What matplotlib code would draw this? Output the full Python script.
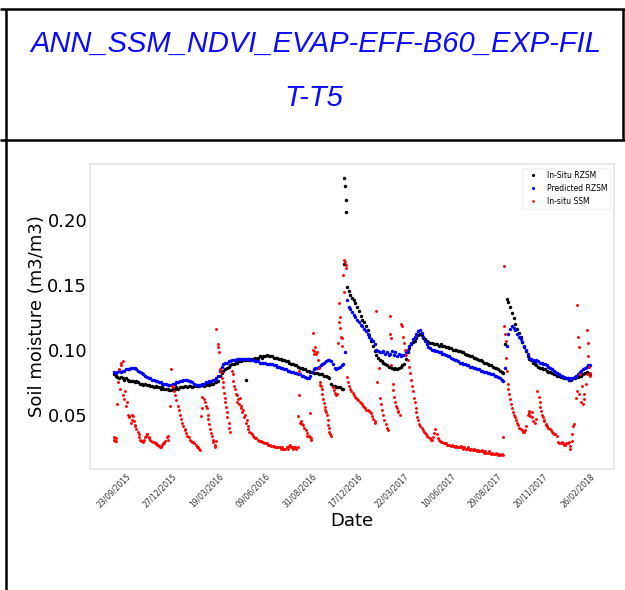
import numpy as np
import matplotlib
matplotlib.use("Agg")
import matplotlib.pyplot as plt
from matplotlib.lines import Line2D

nan = np.nan

W, H = 625, 590  # output size in pixels

title_lines = ["ANN_SSM_NDVI_EVAP-EFF-B60_EXP-FIL", "T-T5"]

date_labels = ["23/09/2015", "27/12/2015", "19/03/2016", "09/06/2016", "31/08/2016",
               "17/12/2016", "22/03/2017", "10/06/2017", "29/08/2017", "20/11/2017",
               "26/02/2018"]
label_step = 80   # samples between two date labels
grid_step = 3     # samples between two stored RZSM values

# in-situ root zone soil moisture, every 3rd sample
rzsm_insitu = [
    .081, .080, .079, .078, .079, .078, .077, .078, .077, .076,
    .076, .076, .075, .076, .075, .074, .074, .073, .074, .073,
    .073, .072, .072, .071, .072, .071, .071, .070, .071, .070,
    .070, .070, .069, .069, .070, .070, .071, .070, .071, .071,
    .071, .072, .071, .072, .072, .071, .072, .073, .072, .072,
    .073, .073, .072, .073, .074, .073, .074, .074, .075, .075,
    .076, .080, .082, .084, .085, .086, .087, .088, .089, .089,
    .090, .090, .091, .091, .092, .092, .092, .093, .092, .093,
    .093, .094, .093, .094, .095, .094, .095, .095, .096, .095,
    .095, .095, .094, .094, .094, .093, .093, .092, .092, .091,
    .091, .090, .089, .089, .088, .088, .087, .086, .086, .085,
    .085, .084, .084, .083, .083, .082, .082, .082, .081, .081,
    .081, .080, .080, .079, .078, .074, .072, .072, .071, .071,
    .071, .070, .070, nan, .148, .145, .142, .140, .138, .136,
    .133, .130, .126, .123, .121, .118, .115, .111, .107, .103,
    .099, .096, .094, .092, .091, .090, .089, .088, .087, .087,
    .086, .085, .086, .085, .086, .087, .088, .089, .093, .098,
    .101, .104, .106, .107, .109, .111, .112, .111, .109, .108,
    .107, .106, .105, .105, .104, .104, .104, .103, .104, .103,
    .103, .102, .102, .101, .101, .100, .100, .100, .099, .099,
    .098, .098, .097, .096, .096, .095, .095, .094, .094, .093,
    .092, .092, .091, .090, .090, .089, .088, .088, .087, .086,
    .086, .085, .084, .083, .082, .104, .139, .137, .133, .128,
    .124, .120, .116, .113, .110, .106, .102, .099, .095, .093,
    .092, .090, .089, .088, .087, .086, .086, .085, .085, .084,
    .083, .083, .082, .081, .081, .080, .080, .079, .079, .078,
    .078, .078, .077, .077, .078, .078, .079, .079, .080, .080,
    .081, .082, .083, .082, .081,
]

# single in-situ RZSM readings off the regular grid (sample, value)
rzsm_insitu_extra = [(228, .077), (397, .166), (398, .232), (399, .226),
                     (400, .215), (401, .206)]

# predicted root zone soil moisture, every 3rd sample
rzsm_pred = [
    .083, .082, .083, .084, .083, .084, .084, .085, .085, .085,
    .086, .086, .086, .085, .084, .083, .082, .081, .080, .079,
    .078, .078, .077, .077, .076, .076, .075, .075, .074, .074,
    .074, .073, .073, .073, .074, .074, .075, .075, .076, .076,
    .077, .077, .077, .076, .076, .075, .074, .073, .073, .073,
    .073, .074, .074, .075, .075, .076, .076, .077, .077, .078,
    .080, .084, .087, .089, .090, .090, .091, .091, .092, .092,
    .092, .093, .093, .093, .093, .093, .093, .093, .093, .092,
    .092, .091, .091, .091, .090, .090, .090, .090, .089, .089,
    .089, .089, .088, .088, .087, .087, .086, .086, .085, .085,
    .084, .084, .083, .083, .082, .082, .081, .081, .080, .080,
    .079, .078, .078, .080, .083, .085, .086, .086, .087, .088,
    .089, .090, .091, .092, .092, .091, .089, .086, .085, .086,
    .087, .088, .089, .098, .138, .133, .131, .129, .127, .125,
    .123, .121, .119, .118, .116, .114, .112, .110, .108, .107,
    .104, .100, .099, .098, .098, .099, .097, .098, .096, .097,
    .099, .096, .098, .095, .097, .095, .096, .096, .098, .100,
    .103, .105, .108, .110, .112, .114, .115, .113, .110, .107,
    .104, .102, .101, .100, .100, .099, .099, .098, .098, .097,
    .097, .096, .095, .095, .094, .093, .092, .092, .091, .090,
    .090, .089, .089, .088, .088, .087, .087, .086, .086, .085,
    .085, .084, .084, .083, .083, .082, .082, .081, .081, .080,
    .080, .079, .078, .077, .076, .086, .103, .112, .116, .118,
    .117, .115, .112, .110, .108, .106, .103, .100, .097, .094,
    .093, .092, .091, .092, .091, .090, .090, .089, .089, .088,
    .087, .086, .085, .084, .083, .082, .081, .080, .080, .079,
    .078, .078, .077, .078, .078, .079, .080, .081, .083, .084,
    .085, .086, .087, .088, .088,
]

# in-situ surface soil moisture (sample, value)
ssm_insitu = [
    (0, .033), (1, .031), (2, .030), (3, .032), (4, .030),
    (6, .058), (8, .075), (9, .085), (10, .070), (12, .090), (13, .088), (15, .065),
    (16, .091), (18, .062), (19, .068), (21, .057), (22, .060),
    (24, .050), (26, .049), (27, .048), (29, .044), (31, .046), (32, .050), (33, .049),
    (34, .045), (36, .042), (37, .041), (39, .039), (41, .037), (43, .035), (44, .033),
    (46, .031), (47, .030), (49, .030), (50, .029),
    (52, .031), (54, .033), (55, .034), (57, .035), (58, .035), (60, .033), (61, .032),
    (63, .031), (65, .030), (67, .029), (69, .029), (71, .028), (72, .028), (74, .027),
    (76, .027), (78, .026), (80, .025), (81, .025), (83, .027), (85, .028), (87, .028),
    (89, .030), (91, .033), (93, .034), (94, .031),
    (97, .057), (99, .085),
    (101, .072), (102, .071), (104, .068), (106, .065), (108, .061), (110, .057),
    (112, .054), (114, .050), (116, .047), (118, .044), (120, .041), (122, .039),
    (123, .038), (125, .036), (127, .034), (129, .033), (131, .031), (133, .030),
    (135, .029), (137, .029), (139, .028), (141, .027), (143, .025), (145, .025),
    (147, .024), (149, .023),
    (150, .049), (152, .055), (153, .064),
    (156, .062), (158, .060), (159, .057), (160, .055), (162, .050), (163, .047),
    (165, .043), (166, .039), (168, .036), (169, .034), (171, .031), (172, .029),
    (174, .027), (175, .025), (176, .030),
    (177, .116), (179, .104), (180, .102), (182, .098),
    (184, .085), (185, .083), (187, .078), (188, .075), (189, .071), (190, .067),
    (191, .063), (192, .060), (194, .056), (195, .052), (196, .048), (198, .044),
    (199, .040), (200, .037),
    (204, .084), (205, .081), (206, .076), (208, .072), (209, .070), (210, .066),
    (212, .065), (213, .060), (215, .062), (216, .058), (217, .063), (219, .057),
    (220, .055), (222, .052), (223, .054), (225, .048), (226, .050), (228, .044),
    (229, .046), (231, .039), (232, .041), (234, .037), (236, .036), (238, .035),
    (240, .034), (242, .033), (244, .032), (246, .032), (248, .031), (250, .030),
    (252, .030), (254, .030), (256, .029), (258, .029), (260, .028), (262, .028),
    (264, .028), (266, .027), (268, .027), (270, .027), (272, .026), (274, .026),
    (276, .026), (278, .025), (280, .025), (282, .025), (284, .025), (286, .025),
    (288, .024), (290, .025), (292, .024), (294, .024), (296, .024), (298, .025),
    (300, .024), (302, .026), (304, .027), (305, .025), (307, .025), (309, .024),
    (311, .025), (313, .025), (315, .024), (317, .025),
    (318, .049), (319, .065), (320, .084), (322, .044), (323, .045), (325, .043),
    (327, .042), (329, .040), (331, .038), (333, .036), (334, .034), (336, .034),
    (338, .051), (339, .033), (340, .032), (341, .031),
    (343, .113), (344, .100), (345, .097), (346, .099), (347, .102), (349, .097),
    (351, .098), (353, .092), (354, .086),
    (355, .075), (356, .073), (357, .072), (359, .070), (360, .066), (361, .062),
    (362, .059), (364, .056), (365, .054), (366, .052), (368, .050), (369, .046),
    (370, .042), (371, .040), (372, .037), (373, .035), (375, .034),
    (379, .071), (380, .069), (382, .067), (383, .065), (385, .066), (386, .105),
    (388, .136), (389, .121), (390, .125), (391, .117), (392, .110), (393, .103),
    (394, .109), (396, .157), (397, .144), (398, .169), (399, .167), (400, .165),
    (401, .163),
    (403, .079), (404, .075), (406, .072), (408, .070), (410, .068), (412, .067),
    (414, .065), (416, .064), (418, .063), (420, .062), (422, .061), (424, .060),
    (426, .059), (428, .058), (430, .057), (432, .056), (434, .055), (436, .054),
    (438, .054), (440, .053), (442, .052), (444, .051), (446, .049), (448, .047),
    (450, .045), (451, .044),
    (452, .130), (455, .075), (457, .086), (459, .063), (461, .058), (463, .054),
    (465, .050), (467, .046), (469, .043), (471, .040), (473, .038), (476, .126),
    (477, .112), (478, .109), (479, .088), (481, .074), (482, .069), (484, .064),
    (485, .060), (487, .057), (488, .055), (490, .053), (491, .052), (493, .050),
    (495, .120), (497, .118), (499, .110), (501, .105), (503, .100), (505, .096),
    (507, .092), (509, .087), (511, .082), (513, .077), (515, .072), (516, .068),
    (518, .063), (519, .060), (521, .055), (522, .052), (524, .048), (525, .046),
    (527, .043), (529, .041), (531, .040), (533, .038), (535, .037), (537, .036),
    (539, .035), (541, .034), (543, .033), (545, .032), (547, .031), (549, .031),
    (551, .033), (553, .036), (555, .039), (557, .035), (559, .032), (561, .031),
    (563, .030), (565, .029), (567, .029), (569, .028), (571, .028), (573, .028),
    (575, .027), (577, .027), (579, .027), (581, .026), (583, .027), (585, .026),
    (587, .026), (589, .025), (591, .026), (593, .025), (595, .025), (597, .025),
    (599, .026), (601, .025), (603, .024), (605, .025), (607, .024), (609, .024),
    (611, .025), (613, .024), (615, .023), (617, .024), (619, .023), (621, .024),
    (623, .023), (625, .023), (627, .022), (629, .023), (631, .022), (633, .022),
    (635, .023), (637, .022), (639, .021), (641, .022), (643, .021), (645, .021),
    (647, .022), (649, .021), (651, .020), (653, .021), (655, .020), (657, .020),
    (659, .021), (661, .020), (663, .019), (665, .020), (667, .019), (669, .020),
    (671, .019),
    (672, .033), (673, .118), (674, .164), (675, .112), (676, .107), (677, .094),
    (678, .084), (680, .074), (681, .070), (682, .066), (684, .062), (685, .058),
    (687, .055), (688, .052), (690, .050), (692, .048), (694, .046), (696, .044),
    (698, .042), (700, .040), (702, .039), (704, .038), (706, .037), (708, .037),
    (710, .038), (712, .041), (714, .050), (716, .053), (717, .051), (719, .049),
    (721, .052), (722, .048), (724, .045), (726, .044), (728, .047),
    (731, .068), (733, .064), (735, .060), (736, .056), (737, .053), (739, .050),
    (740, .048), (742, .046), (743, .045), (745, .043), (746, .042), (748, .041),
    (750, .040), (752, .039), (754, .038), (756, .037), (758, .036), (760, .035),
    (762, .035), (764, .034),
    (767, .029), (769, .028), (771, .028), (773, .029), (775, .028), (777, .027),
    (779, .027), (781, .028), (783, .028), (785, .029), (787, .026), (788, .024),
    (790, .030), (791, .035), (793, .041), (794, .043),
    (798, .063), (799, .134), (800, .068), (801, .110), (802, .102), (803, .066),
    (805, .081), (806, .060), (808, .072), (809, .058), (811, .066), (812, .062),
    (814, .074), (816, .081), (817, .115), (818, .105), (819, .095), (820, .087),
    (821, .082), (822, .080),
]


def fx(x):
    return x / W


def fy(y):
    return 1 - y / H


fig = plt.figure(figsize=(W / 100, H / 100), dpi=100)

# table cell borders around the header and the chart
border = dict(color="black", lw=1.8, solid_capstyle="butt")
fig.add_artist(Line2D([fx(0), fx(625)], [fy(9), fy(9)], **border))
fig.add_artist(Line2D([fx(0), fx(625)], [fy(139.5), fy(139.5)], **border))
fig.add_artist(Line2D([fx(6), fx(6)], [fy(9), fy(590)], **border))
fig.add_artist(Line2D([fx(623), fx(623)], [fy(9), fy(139.5)], **border))

head = dict(ha="center", va="center", fontsize=21, style="italic",
            color="#0a0aff", family=["Liberation Sans", "DejaVu Sans"])
fig.text(fx(316), fy(44), title_lines[0], **head)
fig.text(fx(314), fy(98), title_lines[1], **head)

ax = fig.add_axes([fx(90), fy(469), 524 / W, 305 / H])

x_grid = np.arange(len(rzsm_insitu)) * grid_step
ex_x, ex_y = zip(*rzsm_insitu_extra)
ssm_x, ssm_y = zip(*ssm_insitu)

dot = dict(linestyle="none", marker="o", mew=0)
ax.plot(x_grid, rzsm_insitu, ms=2.5, color="black", label="In-Situ RZSM", **dot)
ax.plot(ex_x, ex_y, ms=2.5, color="black", **dot)
ax.plot(np.arange(len(rzsm_pred)) * grid_step, rzsm_pred, ms=2.5, color="blue",
        label="Predicted RZSM", **dot)
ax.plot(ssm_x, ssm_y, ms=2.1, color="red", label="In-situ SSM", **dot)

ax.set_xticks(np.arange(len(date_labels)) * label_step)
ax.set_xticklabels(date_labels, rotation=45)
ax.set_yticks([0.05, 0.10, 0.15, 0.20])
ax.tick_params(length=0)
ax.tick_params(axis="y", labelsize=13, pad=2)
ax.tick_params(axis="x", labelsize=5.5, pad=2, labelcolor="#333333")

for s in ax.spines.values():
    s.set_color("#e4e4e4")
    s.set_linewidth(1.2)

ax.set_xlabel("Date", fontsize=13, labelpad=2)
ax.set_ylabel("Soil moisture (m3/m3)", fontsize=13, labelpad=1)

leg = ax.legend(loc="upper right", fontsize=5.5, markerscale=0.9, framealpha=0.8)
leg.get_frame().set_edgecolor("#eeeeee")

fig.savefig("out.png", dpi=100)
